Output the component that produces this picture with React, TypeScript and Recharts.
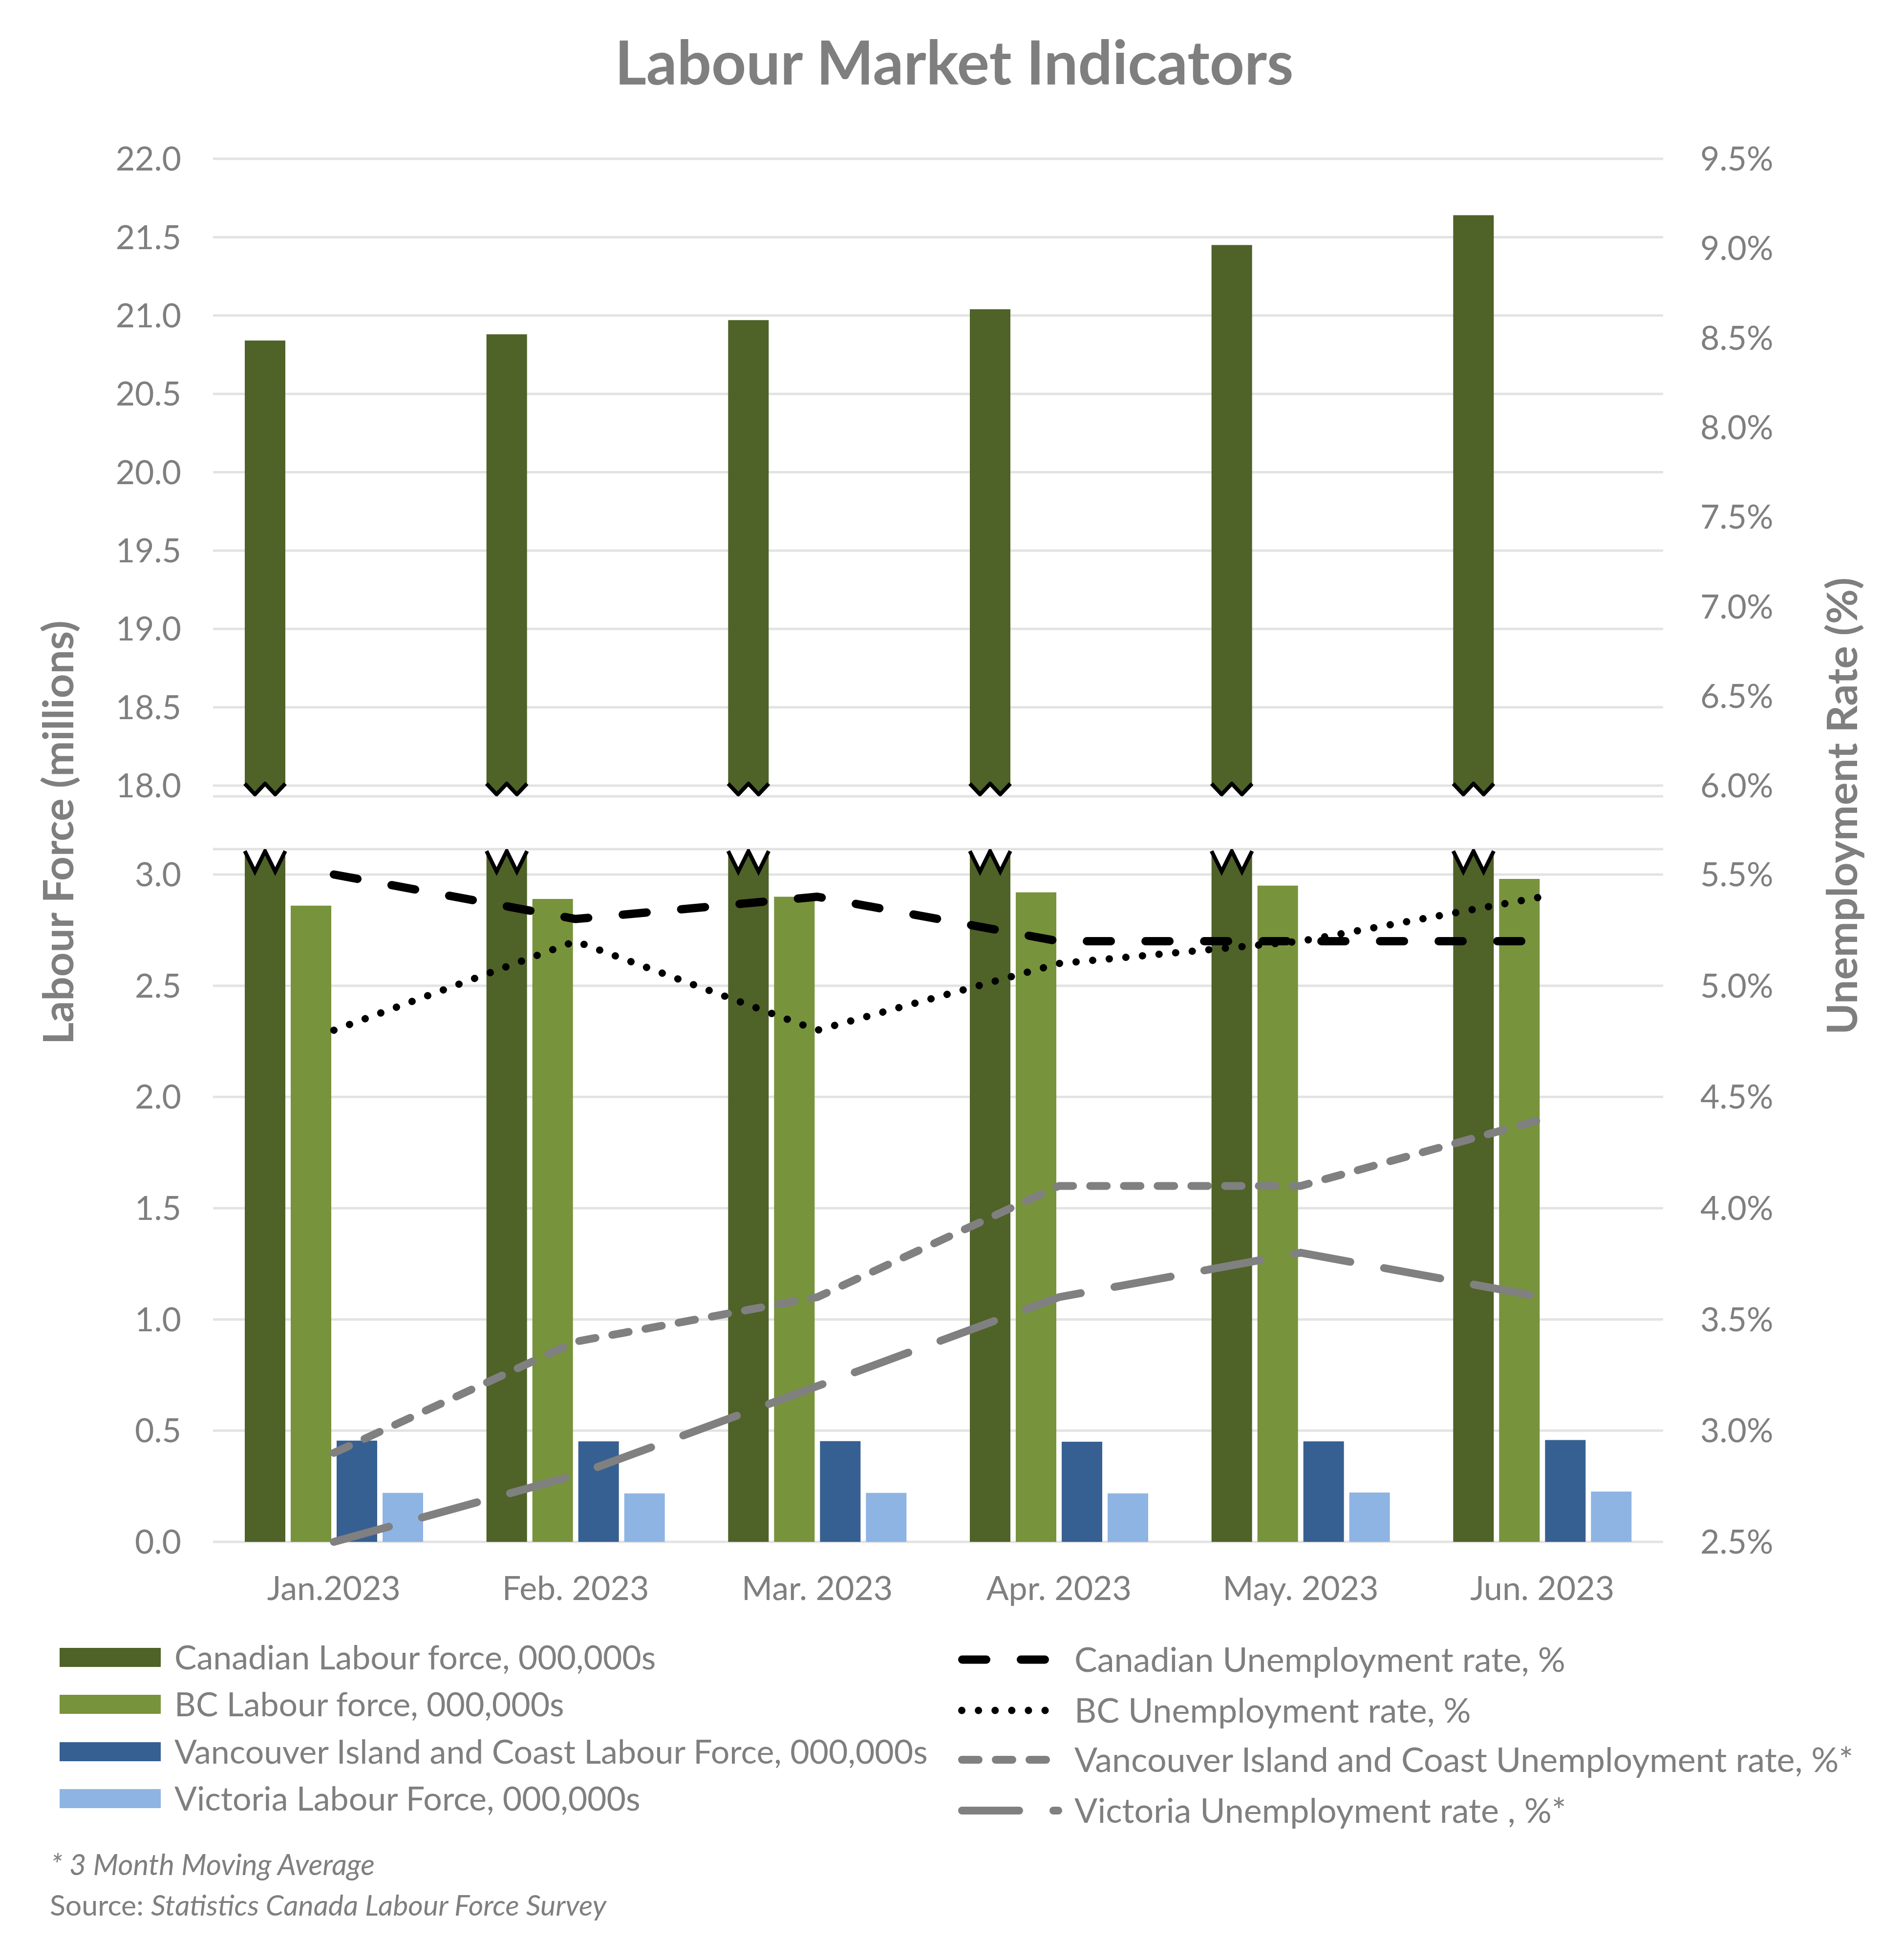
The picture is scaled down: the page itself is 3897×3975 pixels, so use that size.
import React from 'react';
import { ComposedChart, Bar, Line, XAxis, YAxis, CartesianGrid } from 'recharts';

const months = ['Jan.2023', 'Feb. 2023', 'Mar. 2023', 'Apr. 2023', 'May. 2023', 'Jun. 2023'];

// labour force, millions
const canadaForce = [20.84, 20.88, 20.97, 21.04, 21.45, 21.64];
const bcForce = [2.86, 2.89, 2.9, 2.92, 2.95, 2.98];
const vicCoastForce = [0.455, 0.452, 0.453, 0.45, 0.452, 0.458];
const victoriaForce = [0.22, 0.218, 0.22, 0.218, 0.222, 0.226];

// unemployment rate, %
const canadaRate = [5.5, 5.3, 5.4, 5.2, 5.2, 5.2];
const bcRate = [4.8, 5.2, 4.8, 5.1, 5.2, 5.4];
const vicCoastRate = [2.9, 3.4, 3.6, 4.1, 4.1, 4.4];
const victoriaRate = [2.5, 2.8, 3.2, 3.6, 3.8, 3.6];

const upperLeftTicks = [18, 18.5, 19, 19.5, 20, 20.5, 21, 21.5, 22];
const upperRightTicks = [6, 6.5, 7, 7.5, 8, 8.5, 9, 9.5];
const lowerLeftTicks = [0, 0.5, 1, 1.5, 2, 2.5, 3];
const lowerRightTicks = [2.5, 3, 3.5, 4, 4.5, 5, 5.5];

const barNames = [
  'Canadian Labour force, 000,000s',
  'BC Labour force, 000,000s',
  'Vancouver Island and Coast Labour Force, 000,000s',
  'Victoria Labour Force, 000,000s',
];
const lineNames = [
  'Canadian Unemployment rate, %',
  'BC Unemployment rate, %',
  'Vancouver Island and Coast Unemployment rate, %*',
  'Victoria Unemployment rate , %*',
];

const C_CAN = '#4f6228';
const C_BC = '#77933c';
const C_VIC = '#376092';
const C_VICT = '#8eb4e3';
const GRAY = '#808080';
const TEXT = '#7f7f7f';
const FONT = 'Lato, "Noto Sans", sans-serif';

const lineStyles = [
  { color: '#000000', width: 17, dash: '49 71' },
  { color: '#000000', width: 15, dash: '0.1 34' },
  { color: GRAY, width: 16, dash: '34 35' },
  { color: GRAY, width: 16, dash: '117 70' },
];

const rows = months.map((m, i) => ({
  month: m,
  canada: canadaForce[i],
  bc: bcForce[i],
  vic: vicCoastForce[i],
  victoria: victoriaForce[i],
  canadaRate: canadaRate[i],
  bcRate: bcRate[i],
  vicRate: vicCoastRate[i],
  victoriaRate: victoriaRate[i],
}));

const W = 3897;
const LEFT_W = 436;
const RIGHT_W = 493;

// upper panel: 22.0 at y=325, 18.0 at y=1608, bars run past the break line
const UP_TOP = 325;
const UP_GRID_BOTTOM = 1608;
const UP_PLOT_BOTTOM = 1630;
const upPad = (UP_PLOT_BOTTOM - UP_GRID_BOTTOM) / (UP_GRID_BOTTOM - UP_TOP);

// lower panel: 3.0 at y=1790, 0.0 at y=3156, plot starts at 1738
const LOW_DIV_TOP = 1700;
const LOW_PLOT_TOP = 1738;
const LOW_GRID_TOP = 1790;
const LOW_BOTTOM = 3156;
const lowPad = (LOW_GRID_TOP - LOW_PLOT_TOP) / (LOW_BOTTOM - LOW_GRID_TOP);
const LOW_MARGIN_TOP = LOW_PLOT_TOP - LOW_DIV_TOP;
const X_AXIS_H = 150;

const tickStyle = { fill: TEXT, fontSize: 68, fontFamily: FONT };

// Canadian bar in the upper panel: zigzag at the bottom
const UpperBreakBar = (props: any) => {
  const { x, y, width, height, fill } = props;
  if (!(height > 0)) return null;
  const b = y + height - 4;
  const a = 22;
  const zig = [
    [x, b - a],
    [x + width * 0.25, b],
    [x + width * 0.5, b - a],
    [x + width * 0.75, b],
    [x + width, b - a],
  ];
  const fillPath =
    `M${x},${y} L${x + width},${y} ` +
    zig.slice().reverse().map(p => `L${p[0]},${p[1]}`).join(' ') + ' Z';
  const zigPath = zig.map((p, i) => `${i ? 'L' : 'M'}${p[0]},${p[1]}`).join(' ');
  return (
    <g>
      <path d={fillPath} fill={fill} />
      <path d={zigPath} fill="none" stroke="#000" strokeWidth={8} strokeLinejoin="round" />
    </g>
  );
};

// Canadian bar in the lower panel: clipped at the top, zigzag on top
const LowerBreakBar = (props: any) => {
  const { x, y, width, height, fill } = props;
  const bottom = y + height;
  const top = Math.max(y, LOW_MARGIN_TOP) + 4;
  const a = 42;
  const zig = [
    [x, top],
    [x + width * 0.25, top + a],
    [x + width * 0.5, top],
    [x + width * 0.75, top + a],
    [x + width, top],
  ];
  const fillPath =
    `M${x},${bottom} ` + zig.map(p => `L${p[0]},${p[1]}`).join(' ') + ` L${x + width},${bottom} Z`;
  const zigPath = zig.map((p, i) => `${i ? 'L' : 'M'}${p[0]},${p[1]}`).join(' ');
  return (
    <g>
      <path d={fillPath} fill={fill} />
      <path d={zigPath} fill="none" stroke="#000" strokeWidth={8} strokeLinejoin="miter" />
    </g>
  );
};

const App = () => {
  const leftCol = [3393, 3489, 3586, 3682];
  const rightCol = [3397, 3501, 3602, 3706];
  const barColors = [C_CAN, C_BC, C_VIC, C_VICT];

  return (
    <div style={{ position: 'absolute', left: 0, top: 0, width: W, height: 3975, background: '#fff', fontFamily: FONT }}>
      {/* upper panel */}
      <div style={{ position: 'absolute', left: 0, top: 0 }}>
        <ComposedChart
          width={W}
          height={1660}
          data={rows}
          margin={{ top: UP_TOP, right: 0, bottom: 1660 - UP_PLOT_BOTTOM, left: 0 }}
          barCategoryGap={65}
          barGap={11}
        >
          <CartesianGrid yAxisId="l" vertical={false} stroke="#e3e3e3" strokeWidth={5} />
          <XAxis dataKey="month" hide />
          <YAxis
            yAxisId="l"
            width={LEFT_W}
            domain={[18 - upPad * 4, 22]}
            ticks={upperLeftTicks}
            allowDataOverflow
            tickLine={false}
            axisLine={false}
            tickMargin={59}
            tick={tickStyle}
            tickFormatter={(v: number) => v.toFixed(1)}
          />
          <YAxis
            yAxisId="r"
            orientation="right"
            width={RIGHT_W}
            domain={[6 - upPad * 3.5, 9.5]}
            ticks={upperRightTicks}
            allowDataOverflow
            tickLine={false}
            axisLine={false}
            tickMargin={70}
            tick={{ ...tickStyle, textAnchor: 'start' }}
            tickFormatter={(v: number) => v.toFixed(1) + '%'}
          />
          <Bar yAxisId="l" dataKey="canada" fill={C_CAN} shape={UpperBreakBar} isAnimationActive={false} />
          <Bar yAxisId="l" dataKey="bcTop" fill={C_BC} isAnimationActive={false} />
          <Bar yAxisId="l" dataKey="vicTop" fill={C_VIC} isAnimationActive={false} />
          <Bar yAxisId="l" dataKey="victoriaTop" fill={C_VICT} isAnimationActive={false} />
        </ComposedChart>
      </div>

      {/* lower panel */}
      <div style={{ position: 'absolute', left: 0, top: LOW_DIV_TOP }}>
        <ComposedChart
          width={W}
          height={LOW_MARGIN_TOP + (LOW_BOTTOM - LOW_PLOT_TOP) + X_AXIS_H}
          data={rows}
          margin={{ top: LOW_MARGIN_TOP, right: 0, bottom: 0, left: 0 }}
          barCategoryGap={65}
          barGap={11}
        >
          <CartesianGrid yAxisId="l" vertical={false} stroke="#e3e3e3" strokeWidth={5} />
          <XAxis
            dataKey="month"
            height={X_AXIS_H}
            tickLine={false}
            axisLine={false}
            tickMargin={65}
            tick={tickStyle}
            interval={0}
          />
          <YAxis
            yAxisId="l"
            width={LEFT_W}
            domain={[0, 3 + lowPad * 3]}
            ticks={lowerLeftTicks}
            allowDataOverflow
            tickLine={false}
            axisLine={false}
            tickMargin={59}
            tick={tickStyle}
            tickFormatter={(v: number) => v.toFixed(1)}
          />
          <YAxis
            yAxisId="r"
            orientation="right"
            width={RIGHT_W}
            domain={[2.5, 5.5 + lowPad * 3]}
            ticks={lowerRightTicks}
            tickLine={false}
            axisLine={false}
            tickMargin={70}
            tick={{ ...tickStyle, textAnchor: 'start' }}
            tickFormatter={(v: number) => v.toFixed(1) + '%'}
          />
          <Bar yAxisId="l" dataKey="canada" fill={C_CAN} shape={LowerBreakBar} isAnimationActive={false} />
          <Bar yAxisId="l" dataKey="bc" fill={C_BC} isAnimationActive={false} />
          <Bar yAxisId="l" dataKey="vic" fill={C_VIC} isAnimationActive={false} />
          <Bar yAxisId="l" dataKey="victoria" fill={C_VICT} isAnimationActive={false} />
          {['canadaRate', 'bcRate', 'vicRate', 'victoriaRate'].map((k, i) => (
            <Line
              key={k}
              yAxisId="r"
              type="linear"
              dataKey={k}
              stroke={lineStyles[i].color}
              strokeWidth={lineStyles[i].width}
              strokeDasharray={lineStyles[i].dash}
              strokeLinecap="round"
              strokeLinejoin="round"
              dot={false}
              activeDot={false}
              isAnimationActive={false}
            />
          ))}
        </ComposedChart>
      </div>

      {/* titles, legend and notes */}
      <svg width={W} height={3975} style={{ position: 'absolute', left: 0, top: 0, pointerEvents: 'none' }}>
        <text x={1953} y={173} textAnchor="middle" fontSize={124} fontWeight={700} fill={TEXT} fontFamily={FONT}>
          Labour Market Indicators
        </text>
        <text
          x={119}
          y={1704}
          transform="rotate(-90 119 1704)"
          textAnchor="middle"
          dy="0.36em"
          fontSize={87}
          fontWeight={700}
          fill={TEXT}
          fontFamily={FONT}
        >
          Labour Force (millions)
        </text>
        <text
          x={3770}
          y={1650}
          transform="rotate(-90 3770 1650)"
          textAnchor="middle"
          dy="0.36em"
          fontSize={87}
          fontWeight={700}
          fill={TEXT}
          fontFamily={FONT}
        >
          Unemployment Rate (%)
        </text>

        {barNames.map((n, i) => (
          <g key={n}>
            <rect x={122} y={leftCol[i] - 20} width={207} height={39} fill={barColors[i]} />
            <text x={357} y={leftCol[i]} dy="0.36em" fontSize={68} fill={TEXT} fontFamily={FONT}>
              {n}
            </text>
          </g>
        ))}
        {lineNames.map((n, i) => (
          <g key={n}>
            <line
              x1={1961 + lineStyles[i].width / 2}
              x2={2174 - lineStyles[i].width / 2}
              y1={rightCol[i]}
              y2={rightCol[i]}
              stroke={lineStyles[i].color}
              strokeWidth={lineStyles[i].width}
              strokeDasharray={lineStyles[i].dash}
              strokeLinecap="round"
            />
            <text x={2199} y={rightCol[i]} dy="0.36em" fontSize={70} fill={TEXT} fontFamily={FONT}>
              {n}
            </text>
          </g>
        ))}

        <text x={104} y={3838} fontSize={60} fontStyle="italic" fill={TEXT} fontFamily={FONT}>
          * 3 Month Moving Average
        </text>
        <text x={102} y={3921} fontSize={59} fill={TEXT} fontFamily={FONT}>
          Source: <tspan fontStyle="italic">Statistics Canada Labour Force Survey</tspan>
        </text>
      </svg>
    </div>
  );
};

export default App;
